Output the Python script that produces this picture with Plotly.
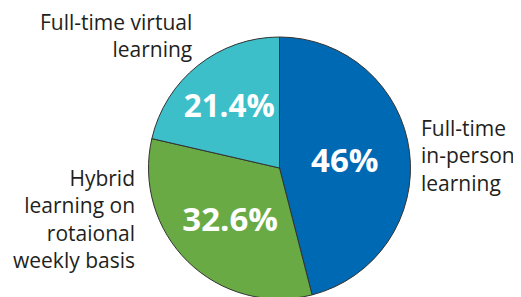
import plotly.graph_objects as go

categories = ["Full-time in-person learning", "Hybrid learning on rotaional weekly basis", "Full-time virtual learning"]
values = [46, 32.6, 21.4]
colors = ["#0069b4", "#69aa45", "#3cbfc9"]
label_lines = [
    ["Full-time", "in-person", "learning"],
    ["Hybrid", "learning on", "rotaional", "weekly basis"],
    ["Full-time virtual", "learning"],
]

W, H = 521, 297
OFF = 8  # page body margin offset

fig = go.Figure(go.Pie(
    labels=categories,
    values=values,
    sort=False,
    direction="clockwise",
    rotation=0,
    marker=dict(colors=colors, line=dict(color="#333333", width=1)),
    texttemplate="%{value}%",
    textposition="inside",
    insidetextorientation="horizontal",
    textfont=dict(family="Open Sans", size=33, color="white", weight="bold"),
    domain=dict(x=[(148 - OFF) / W, (411 - OFF) / W],
                y=[1 - (299 - OFF) / H, 1 - (37 - OFF) / H]),
    showlegend=False,
    hoverinfo="skip",
))

label_font = dict(family="Open Sans", size=21, color="#231f20")
# (x anchor px, anchor side, block center px)
label_place = [
    (419, "left", 155),
    (137, "right", 219),
    (194, "right", 35),
]
for lines, (xa, side, yc) in zip(label_lines, label_place):
    fig.add_annotation(
        text="<br>".join(lines), xref="paper", yref="paper",
        x=(xa - OFF) / W, y=1 - (yc - OFF) / H,
        xanchor=side, yanchor="middle", align=side,
        showarrow=False, font=label_font,
    )

fig.update_layout(
    width=W, height=H,
    margin=dict(l=0, r=0, t=0, b=0),
    paper_bgcolor="white", plot_bgcolor="white",
)
fig.write_html("out.html")
